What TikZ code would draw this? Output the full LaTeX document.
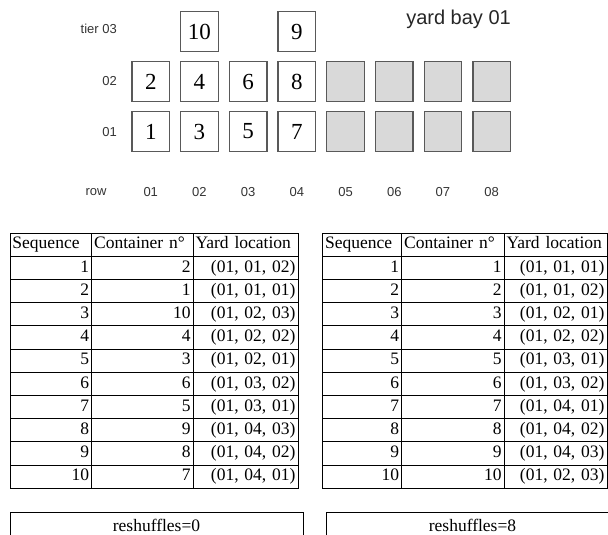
\documentclass[tikz,border=0pt]{standalone}
\usepackage{fontspec}
\setmainfont{Liberation Serif}
\newfontfamily\labelsans{Liberation Sans}
\begin{document}
\begin{tikzpicture}[x=1pt,y=-1pt,
  slot/.style={draw=black!65, line width=1.3pt, minimum width=37.5pt,
    minimum height=40.5pt, inner sep=0pt, font=\fontsize{23}{24}\selectfont},
  emptyslot/.style={slot, fill=black!15},
  axislabel/.style={font=\labelsans\fontsize{13}{14}\selectfont, text=black!80, inner sep=0pt},
  cell/.style={draw, line width=0.8pt, minimum height=23.2pt, inner xsep=2.5pt,
    inner ysep=0pt, font=\fontsize{17.5}{20}\selectfont, text height=12pt, text depth=3.5pt},
  resbox/.style={draw, line width=0.8pt, minimum width=293pt, inner xsep=0pt,
    inner ysep=8pt, anchor=north, font=\fontsize{17.5}{20}\selectfont,
    text height=12pt, text depth=30pt}
]
\useasboundingbox (0,0) rectangle (608,535);
\clip (0,0) rectangle (608,535);

% ---------- yard bay ----------
\node[axislabel, anchor=east, font=\labelsans\fontsize{20}{21}\selectfont, text=black!85]
  (title) at (511,19.5) {yard bay 01};
\node[axislabel, anchor=east] (tier3) at (117,29) {tier 03};
\node[axislabel, anchor=east] (tier2) at (117,81) {02};
\node[axislabel, anchor=east] (tier1) at (117,132) {01};
\node[axislabel] (rowlab) at (96,192) {row};
\foreach \i in {1,...,8}{
  \pgfmathsetmacro\cx{150.75+48.7*(\i-1)}
  \node[axislabel] (col\i) at (\cx,192) {0\i};
}
% occupied slots: number/row/tier
\foreach \n/\r/\t in {1/1/1, 2/1/2, 3/2/1, 4/2/2, 10/2/3, 5/3/1, 6/3/2, 7/4/1, 8/4/2, 9/4/3}{
  \pgfmathsetmacro\cx{150.75+48.7*(\r-1)}
  \pgfmathsetmacro\cy{131.5-50*(\t-1)}
  \node[slot] (c\n) at (\cx,\cy) {\n};
}
% free slots
\foreach \r in {5,...,8}{
  \foreach \t in {1,2}{
    \pgfmathsetmacro\cx{150.75+48.7*(\r-1)}
    \pgfmathsetmacro\cy{131.5-50*(\t-1)}
    \node[emptyslot] (e\r\t) at (\cx,\cy) {};
  }
}

% ---------- retrieval sequence tables ----------
\def\rowtop{233}
\def\rowh{23.2}
% left table
\node[cell, minimum width=81.7pt, text width=76.7pt, align=left] (L-0-1) at (50.85,244.6) {Sequence};
\node[cell, minimum width=101.3pt, text width=96.3pt, align=left] (L-0-2) at (142.35,244.6) {Container n°};
\node[cell, minimum width=105pt, text width=100pt, align=left] (L-0-3) at (245.5,244.6) {Yard location};
\foreach \sq/\ct/\lc in {1/2/{(01, 01, 02)}, 2/1/{(01, 01, 01)}, 3/10/{(01, 02, 03)},
    4/4/{(01, 02, 02)}, 5/3/{(01, 02, 01)}, 6/6/{(01, 03, 02)}, 7/5/{(01, 03, 01)},
    8/9/{(01, 04, 03)}, 9/8/{(01, 04, 02)}, 10/7/{(01, 04, 01)}}{
  \pgfmathsetmacro\yy{\rowtop+\rowh*(\sq+0.5)}
  \node[cell, minimum width=81.7pt, text width=76.7pt, align=right] (L-\sq-1) at (50.85,\yy) {\sq};
  \node[cell, minimum width=101.3pt, text width=96.3pt, align=right] (L-\sq-2) at (142.35,\yy) {\ct};
  \node[cell, minimum width=105pt, text width=100pt, align=right] (L-\sq-3) at (245.5,\yy) {\lc};
}
% right table
\node[cell, minimum width=79pt, text width=74pt, align=left] (R-0-1) at (362.2,244.6) {Sequence};
\node[cell, minimum width=102.3pt, text width=97.3pt, align=left] (R-0-2) at (452.85,244.6) {Container n°};
\node[cell, minimum width=103pt, text width=98pt, align=left] (R-0-3) at (555.5,244.6) {Yard location};
\foreach \sq/\ct/\lc in {1/1/{(01, 01, 01)}, 2/2/{(01, 01, 02)}, 3/3/{(01, 02, 01)},
    4/4/{(01, 02, 02)}, 5/5/{(01, 03, 01)}, 6/6/{(01, 03, 02)}, 7/7/{(01, 04, 01)},
    8/8/{(01, 04, 02)}, 9/9/{(01, 04, 03)}, 10/10/{(01, 02, 03)}}{
  \pgfmathsetmacro\yy{\rowtop+\rowh*(\sq+0.5)}
  \node[cell, minimum width=79pt, text width=74pt, align=right] (R-\sq-1) at (362.2,\yy) {\sq};
  \node[cell, minimum width=102.3pt, text width=97.3pt, align=right] (R-\sq-2) at (452.85,\yy) {\ct};
  \node[cell, minimum width=103pt, text width=98pt, align=right] (R-\sq-3) at (555.5,\yy) {\lc};
}

% ---------- reshuffle counts ----------
\node[resbox] (resL) at (156.5,511.5) {reshuffles=0};
\node[resbox] (resR) at (472.5,511.5) {reshuffles=8};
\end{tikzpicture}
\end{document}
